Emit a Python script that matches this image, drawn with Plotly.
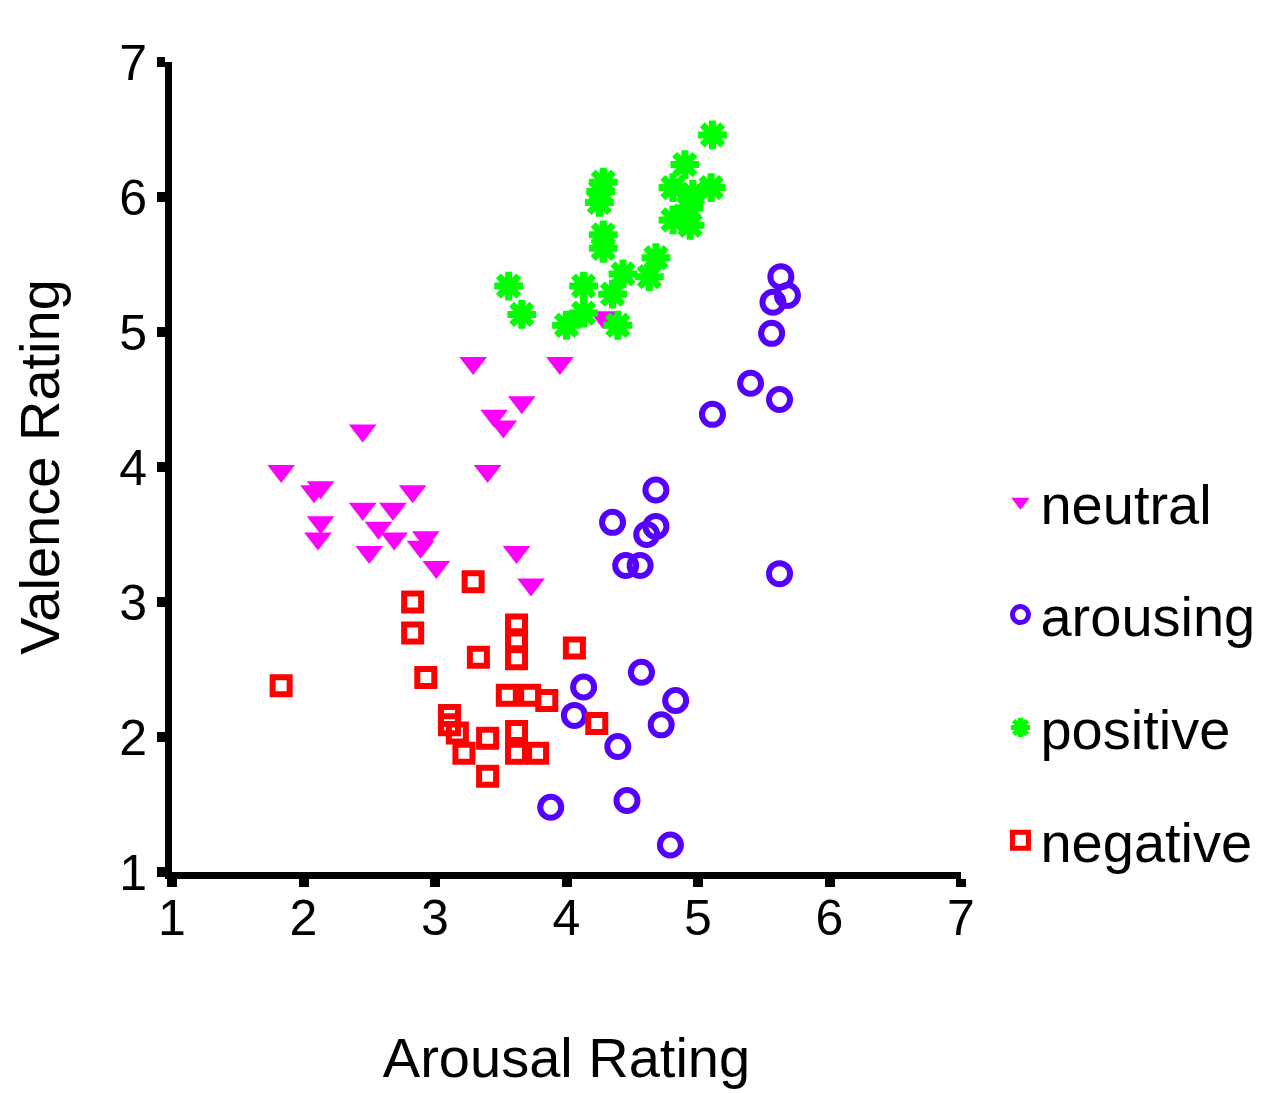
import plotly.graph_objects as go

# ---- data ----
neutral_x = [3.29, 3.95, 3.66, 3.45, 3.52, 2.45, 1.83, 3.40, 2.13, 2.08, 2.83, 2.45,
             2.68, 2.13, 2.11, 2.57, 2.69, 2.50, 2.93, 2.89, 3.01, 3.62, 3.73, 4.28]
neutral_y = [4.77, 4.77, 4.48, 4.38, 4.30, 4.27, 3.97, 3.97, 3.85, 3.82, 3.82, 3.69,
             3.69, 3.59, 3.47, 3.55, 3.47, 3.37, 3.48, 3.41, 3.26, 3.37, 3.13, 5.11]

arousing_x = [5.63, 5.57, 5.68, 5.56, 5.40, 5.62, 5.11, 4.68, 4.35, 4.68, 4.61, 4.45,
              4.56, 5.62, 4.57, 4.13, 4.83, 4.06, 4.72, 4.39, 3.88, 4.46, 4.79]
arousing_y = [5.41, 5.22, 5.27, 4.99, 4.62, 4.50, 4.39, 3.83, 3.59, 3.56, 3.50, 3.27,
              3.27, 3.21, 2.48, 2.37, 2.27, 2.16, 2.09, 1.93, 1.48, 1.53, 1.20]

positive_x = [5.11, 4.90, 4.81, 5.10, 4.96, 4.93, 4.81, 4.94, 4.28, 4.26, 4.25, 4.28,
              4.28, 4.68, 4.43, 4.63, 3.56, 4.13, 4.35, 3.66, 4.13, 4.00, 4.39]
positive_y = [6.46, 6.24, 6.07, 6.07, 6.02, 5.92, 5.83, 5.79, 6.11, 6.04, 5.96, 5.72,
              5.62, 5.55, 5.43, 5.41, 5.34, 5.34, 5.28, 5.13, 5.14, 5.05, 5.05]

negative_x = [3.29, 2.83, 2.83, 3.62, 3.62, 3.62, 3.33, 4.06, 1.83, 2.93, 3.55, 3.72,
              3.85, 4.23, 3.11, 3.11, 3.17, 3.22, 3.40, 3.62, 3.62, 3.78, 3.40]
negative_y = [3.15, 3.00, 2.77, 2.83, 2.72, 2.58, 2.59, 2.66, 2.38, 2.44, 2.31, 2.31,
              2.27, 2.10, 2.16, 2.09, 2.03, 1.88, 1.99, 2.04, 1.88, 1.88, 1.71]

tick_vals = [1, 2, 3, 4, 5, 6, 7]
x_title = "Arousal Rating"
y_title = "Valence Rating"

FONT = "Liberation Sans, Arial, sans-serif"

fig = go.Figure()
fig.add_trace(go.Scatter(
    x=neutral_x, y=neutral_y, mode="markers", name="neutral", legendgroup="neutral",
    marker=dict(symbol="triangle-down", size=24, color="#FF00FF", line=dict(width=0))))
fig.add_trace(go.Scatter(
    x=arousing_x, y=arousing_y, mode="markers", name="arousing", legendgroup="arousing",
    marker=dict(symbol="circle-open", size=21, color="#5500FF", line=dict(width=6, color="#5500FF"))))
fig.add_trace(go.Scatter(
    x=positive_x, y=positive_y, mode="markers", name="positive", legendgroup="positive",
    marker=dict(symbol="asterisk-open", size=24, color="#00FF00", line=dict(width=7, color="#00FF00"))))
fig.add_trace(go.Scatter(
    x=negative_x, y=negative_y, mode="markers", name="negative", legendgroup="negative",
    marker=dict(symbol="square-open", size=17, color="#FF0000", line=dict(width=6, color="#FF0000"))))

axis_common = dict(
    range=[1, 7], tickvals=tick_vals, showgrid=False, zeroline=False,
    showline=True, linecolor="black", linewidth=7, automargin=False,
    ticks="outside", ticklen=8, tickwidth=10, tickcolor="black",
    tickfont=dict(family=FONT, size=50, color="black"),
)

fig.update_layout(
    width=1270, height=1085,
    margin=dict(l=164, r=317, t=54, b=221),
    paper_bgcolor="white", plot_bgcolor="white",
    xaxis=dict(**axis_common, ticklabelstandoff=-12,
               title=dict(text=x_title, font=dict(family=FONT, size=56, color="black"), standoff=95)),
    yaxis=dict(**axis_common,
               title=dict(text=y_title, font=dict(family=FONT, size=56, color="black"), standoff=47)),
    legend=dict(x=1.05, xanchor="left", y=0.51, yanchor="top",
                font=dict(family=FONT, size=56, color="black"),
                tracegroupgap=37, itemsizing="trace", bgcolor="rgba(0,0,0,0)"),
    showlegend=True,
)

fig.write_html("out.html")
